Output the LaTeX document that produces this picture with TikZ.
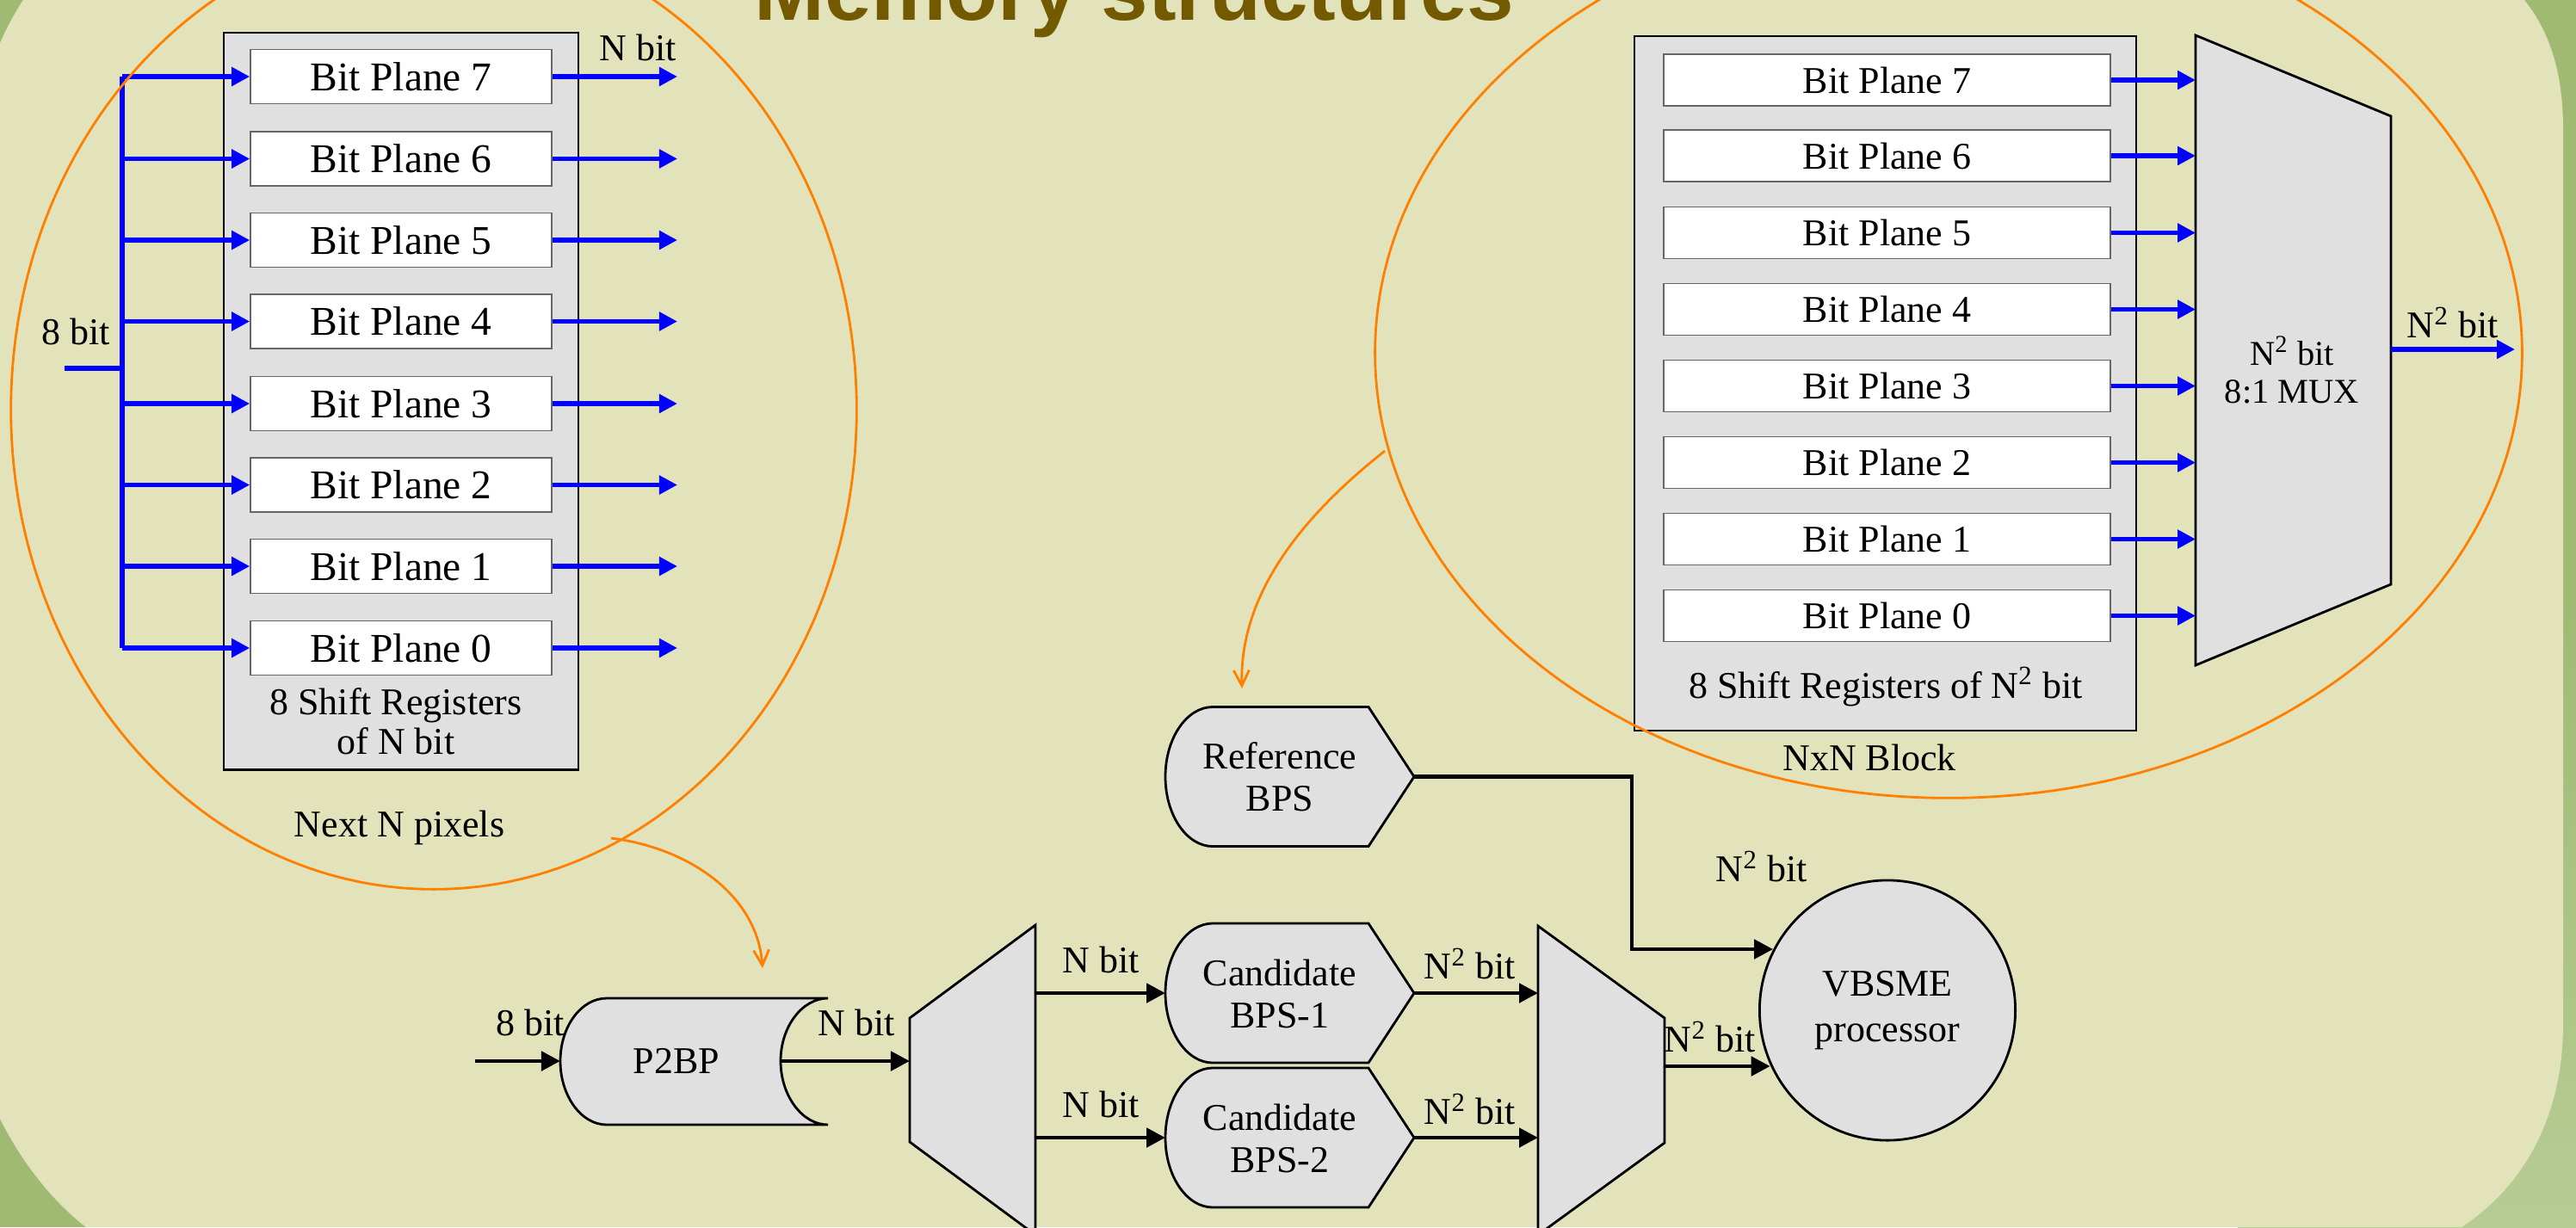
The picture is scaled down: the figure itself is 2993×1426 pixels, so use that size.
\documentclass[tikz,border=0pt]{standalone}
\usepackage{fontspec}
\setmainfont{Liberation Serif}
\newfontfamily\titlefont{Liberation Sans}
\usetikzlibrary{arrows.meta,shapes.geometric,calc}

\definecolor{bgbeige}{RGB}{226,227,187}
\definecolor{bggreen}{RGB}{160,186,116}
\definecolor{bglight}{RGB}{183,204,148}
\definecolor{boxgray}{RGB}{224,224,224}
\definecolor{titlebrown}{RGB}{115,90,0}
\definecolor{orng}{RGB}{255,128,0}
\definecolor{pblue}{RGB}{0,0,255}

\newcommand{\bpsshape}[1]{%
  \draw[shapeline] (1409,#1-81) -- (1590,#1-81) -- (1643,#1) -- (1590,#1+81) -- (1409,#1+81)
    .. controls (1379,#1+81) and (1354,#1+45) .. (1354,#1)
    .. controls (1354,#1-45) and (1379,#1-81) .. cycle;}

\begin{document}
\begin{tikzpicture}[x=0.01cm,y=-0.01cm,
  lbl/.style={font=\fontsize{12.5}{14}\selectfont, inner sep=0pt, align=center},
  bpl/.style={draw=black!60, line width=0.4pt, fill=white, minimum width=3.5cm,
    minimum height=0.63cm, inner sep=0pt, font=\fontsize{13.5}{15}\selectfont},
  bpr/.style={bpl, minimum width=5.19cm, minimum height=0.6cm, font=\fontsize{12.5}{14}\selectfont},
  container/.style={draw=black, line width=0.7pt, fill=boxgray, inner sep=0pt},
  shapeline/.style={draw=black, line width=0.8pt, fill=boxgray},
  blueline/.style={draw=pblue, line width=1.5pt},
  bluearrow/.style={blueline, -{Triangle[length=0.21cm,width=0.21cm]}},
  blackline/.style={draw=black, line width=1.4pt},
  blackarrow/.style={blackline, -{Triangle[length=0.22cm,width=0.22cm]}},
  orangering/.style={draw=orng, line width=0.8pt},
  orangearrow/.style={orangering, -{Straight Barb[length=0.18cm,width=0.18cm]}},
]
\useasboundingbox (0,0) rectangle (2993,1426);
\clip (0,0) rectangle (2993,1426);

% background
\fill[bggreen] (0,0) rectangle (2993,1426);
\shade[top color=bggreen, bottom color=bglight] (2600,700) rectangle (2993,1426);
\fill[bgbeige] (27,0) -- (2933,0) .. controls (2965,40) and (2978,90) .. (2978,150)
  -- (2978,1190) .. controls (2978,1300) and (2930,1380) .. (2860,1426)
  -- (100,1426) .. controls (60,1395) and (25,1350) .. (0,1300)
  -- (0,50) .. controls (8,32) and (17,15) .. cycle;

% title
\node[font=\titlefont\bfseries\fontsize{27.9}{30}\selectfont, text=titlebrown,
  anchor=base, inner sep=0pt] (title) at (1318,23) {Memory structures};

% ---------------- left block ----------------
\node[container, minimum width=4.12cm, minimum height=8.56cm] (regL) at (466,466) {};
\foreach \i/\y in {7/89,6/184.5,5/279,4/373.5,3/469,2/563.5,1/658,0/753}
  \node[bpl] (bpL\i) at (466,\y) {Bit Plane \i};
\coordinate (busx) at (142,0);
\coordinate (outLx) at (787,0);
\coordinate (inL) at (75,428);
\draw[blueline] (bpL7.west -| busx) -- (bpL0.west -| busx);
\draw[blueline] (inL) -- (inL -| busx);
\foreach \i in {0,...,7} {
  \draw[bluearrow] (bpL\i.west -| busx) -- (bpL\i.west);
  \draw[bluearrow] (bpL\i.east) -- (bpL\i.east -| outLx);
}
\node[lbl] (nbitL) at (741,55) {N bit};
\node[lbl] (eightL) at (88,385) {8 bit};
\node[lbl, font=\fontsize{12.5}{13.1}\selectfont] (srL) at (460,838) {8 Shift Registers\\of N bit};
\node[lbl] (nextN) at (464,962) {Next N pixels};

% ---------------- right block ----------------
\node[container, minimum width=5.83cm, minimum height=8.07cm] (regR) at (2190.5,445.5) {};
\foreach \i/\y in {7/93,6/181,5/270.5,4/359.5,3/448.5,2/537.5,1/626.5,0/715.5}
  \node[bpr] (bpR\i) at (2192.5,\y) {Bit Plane \i};
\draw[shapeline] (2551,41) -- (2778,135) -- (2778,679) -- (2551,773) -- cycle;
\coordinate (muxin) at (2551,408);
\node[lbl, font=\fontsize{11.5}{12.5}\selectfont] (mux) at (2663,430) {N\textsuperscript{2} bit\\8:1 MUX};
\foreach \i in {0,...,7}
  \draw[bluearrow] (bpR\i.east) -- (bpR\i.east -| muxin);
\coordinate (muxout) at (2778,406);
\coordinate (muxend) at (2922,406);
\draw[bluearrow] (muxout) -- (muxend);
\node[lbl] (muxlbl) at (2850,375) {N\textsuperscript{2} bit};
\node[lbl] (srR) at (2191,798) {8 Shift Registers of N\textsuperscript{2} bit};
\node[lbl] (nxn) at (2172,880) {NxN Block};

% orange rings and pointers
\draw[orangering] (504,476) ellipse [x radius=4.91cm, y radius=5.57cm];
\draw[orangering] (2264,410) ellipse [x radius=6.66cm, y radius=5.17cm];
\coordinate (oR1) at (1609,524);
\coordinate (oR2) at (1443,800);
\draw[orangearrow] (oR1) .. controls (1500,610) and (1440,700) .. (oR2);
\coordinate (oL1) at (710,974);
\coordinate (oL2) at (886,1125);
\draw[orangearrow] (oL1) .. controls (800,985) and (880,1040) .. (oL2);

% ---------------- bottom chain ----------------
% P2BP
\draw[shapeline] (705,1160) -- (962,1160)
  .. controls (932,1160) and (907,1193) .. (907,1233)
  .. controls (907,1273) and (932,1307) .. (962,1307)
  -- (705,1307) .. controls (675,1307) and (651,1273) .. (651,1233)
  .. controls (651,1193) and (675,1160) .. cycle;
\node[lbl] (p2bp) at (786,1233) {P2BP};
\coordinate (p2in) at (552,1233);
\coordinate (p2inend) at (651,1233);
\coordinate (p2out) at (907,1233);
\draw[blackarrow] (p2in) -- (p2inend);
\node[lbl] (p2inlbl) at (616,1188) {8 bit};
\node[lbl] (p2outlbl) at (995,1188) {N bit};

% demux 1
\draw[shapeline] (1057,1183) -- (1203,1075) -- (1203,1435) -- (1057,1327) -- cycle;
\coordinate (t1in) at (1057,1233);
\draw[blackarrow] (p2out) -- (t1in);

% BPS shapes
\bpsshape{902.5}
\bpsshape{1154}
\bpsshape{1322}
\node[lbl, font=\fontsize{12.5}{14}\selectfont] (ref) at (1487,903) {Reference\\BPS};
\node[lbl, font=\fontsize{12.5}{14}\selectfont] (cand1) at (1487,1155) {Candidate\\BPS-1};
\node[lbl, font=\fontsize{12.5}{14}\selectfont] (cand2) at (1487,1323) {Candidate\\BPS-2};
\coordinate (refout) at (1643,902.5);
\coordinate (c1in) at (1354,1154);
\coordinate (c2in) at (1354,1322);
\coordinate (c1out) at (1643,1154);
\coordinate (c2out) at (1643,1322);
\coordinate (t1outx) at (1203,0);
\draw[blackarrow] (c1in -| t1outx) -- (c1in);
\draw[blackarrow] (c2in -| t1outx) -- (c2in);
\node[lbl] (nb1) at (1279,1115) {N bit};
\node[lbl] (nb2) at (1279,1283) {N bit};

% mux 2
\draw[shapeline] (1787,1076) -- (1934,1183) -- (1934,1328) -- (1787,1435) -- cycle;
\coordinate (t2inx) at (1787,0);
\draw[blackarrow] (c1out) -- (c1out -| t2inx);
\draw[blackarrow] (c2out) -- (c2out -| t2inx);
\node[lbl] (n2a) at (1708,1120) {N\textsuperscript{2} bit};
\node[lbl] (n2b) at (1708,1289) {N\textsuperscript{2} bit};

% VBSME
\node[draw=black, line width=0.8pt, fill=boxgray, ellipse, minimum width=2.97cm,
  minimum height=3.02cm, inner sep=0pt, align=center,
  font=\fontsize{12.5}{15}\selectfont] (vbsme) at (2193,1174) {VBSME\\processor};
\coordinate (t2out) at (1934,1239);
\draw[blackarrow] (t2out) -- (t2out -| vbsme.205);
\node[lbl] (n2c) at (1987,1205) {N\textsuperscript{2} bit};
\coordinate (refcorner) at (1896,1103);
\draw[blackarrow] (refout) -| (refcorner) -- (refcorner -| vbsme.152);
\node[lbl] (n2d) at (2047,1007) {N\textsuperscript{2} bit};

\end{tikzpicture}
\end{document}
